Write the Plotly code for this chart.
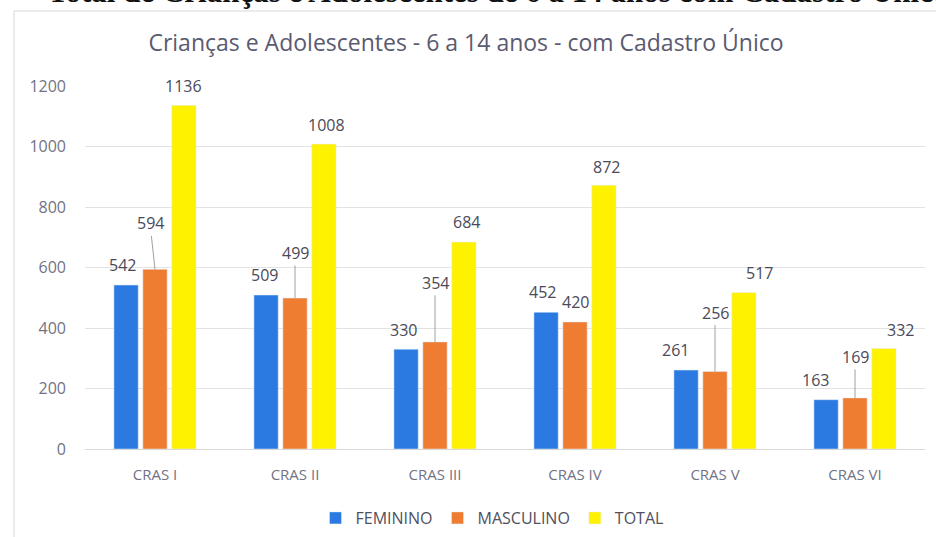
import plotly.graph_objects as go

categories = ["CRAS I", "CRAS II", "CRAS III", "CRAS IV", "CRAS V", "CRAS VI"]
feminino = [542, 509, 330, 452, 261, 163]
masculino = [594, 499, 354, 420, 256, 169]
total = [1136, 1008, 684, 872, 517, 332]
y_ticks = [0, 200, 400, 600, 800, 1000, 1200]

# label placement styles (pixel offsets of label centre relative to bar top / bar centre)
fem_dx = [-2, 0, -1, -2, -9, -9]
fem_dy = [20, 20, 19, 20, 20, 20]
mas_dx = [-5, 0, 0, 0, 0, 0]
mas_dy = [46, 45, 59, 20, 59, 41]
tot_dx = [-3, 0, 0, 0, 13, 14]
tot_dy = [19, 19, 20, 18, 20, 19]

FONT = "Open Sans"
LABEL_COLOR = "#4a4a58"
TICK_COLOR = "#727284"

fig = go.Figure()
fig.add_trace(go.Bar(name="FEMININO", x=categories, y=feminino, marker_color="#2a7ae2"))
fig.add_trace(go.Bar(name="MASCULINO", x=categories, y=masculino, marker_color="#ee7d32"))
fig.add_trace(go.Bar(name="TOTAL", x=categories, y=total, marker_color="#fff200"))

BAR_OFFSET = 31
annotations = []
for series, dxs, dys, off in [(feminino, fem_dx, fem_dy, -BAR_OFFSET),
                              (masculino, mas_dx, mas_dy, 0),
                              (total, tot_dx, tot_dy, BAR_OFFSET)]:
    for c, v, dx, dy in zip(categories, series, dxs, dys):
        leader = off == 0 and dy > 30
        annotations.append(dict(
            x=c, y=v, xref="x", yref="y", text=str(v),
            showarrow=True, arrowhead=0, arrowwidth=1,
            arrowcolor="#a0a0a8" if leader else "rgba(0,0,0,0)",
            ax=off + dx, ay=-dy, standoff=0, startstandoff=0,
            font=dict(family=FONT, size=16, color=LABEL_COLOR),
        ))

annotations.append(dict(
    text="<b>– Total de Crianças e Adolescentes de 6 a 14 anos com Cadastro Único</b>",
    xref="paper", yref="paper", x=(22 - 85) / 840, y=(449 - 11) / 363,
    xanchor="left", yanchor="bottom", showarrow=False,
    font=dict(family="Liberation Serif", size=31, color="#111111"),
))

fig.update_layout(
    width=936, height=537,
    margin=dict(l=85, r=11, t=86, b=88, autoexpand=False),
    paper_bgcolor="white", plot_bgcolor="white",
    barmode="group", bargap=0.38, bargroupgap=0.16,
    title=dict(text="Crianças e Adolescentes - 6 a 14 anos - com Cadastro Único",
               x=(466) / 936, xanchor="center", y=1 - 43 / 537, yanchor="middle",
               font=dict(family=FONT, size=23, color="#5a5a70")),
    xaxis=dict(showgrid=False, showline=True, linecolor="#d9d9d9", linewidth=1,
               ticks="", ticklabelstandoff=12,
               tickfont=dict(family=FONT, size=15, color=TICK_COLOR)),
    yaxis=dict(range=[0, 1200], tickvals=y_ticks, showgrid=True, gridcolor="#e2e2e2",
               gridwidth=1, zeroline=False, showline=False, ticks="", ticklabelstandoff=18,
               tickfont=dict(family=FONT, size=16, color=TICK_COLOR)),
    legend=dict(orientation="h", x=(492 - 85) / 840, xanchor="center",
                y=(449 - 501) / 363, yanchor="top",
                font=dict(family=FONT, size=16, color="#505060"),
                itemwidth=30, traceorder="normal"),
    annotations=annotations,
    shapes=[dict(type="rect", xref="paper", yref="paper",
                 x0=(14 - 85) / 840, x1=(960 - 85) / 840,
                 y0=(449 - 560) / 363, y1=(449 - 11) / 363,
                 line=dict(color="#d6d6dc", width=1), layer="below")],
)

fig.write_html("out.html", config={"displayModeBar": False},
               post_script="document.body.style.margin='0';")
